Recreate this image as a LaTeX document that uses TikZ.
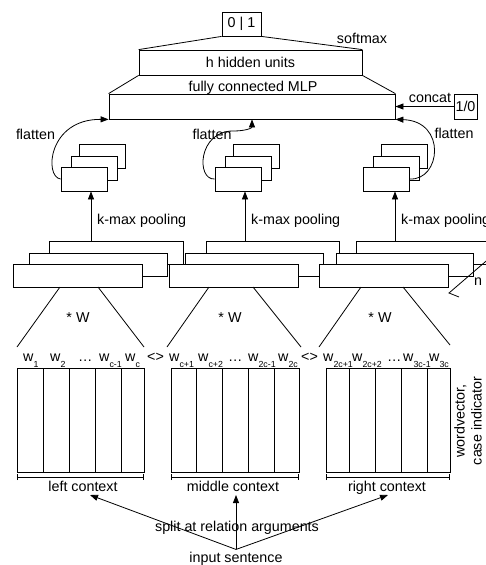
\documentclass[tikz,border=0pt]{standalone}
\usepackage{fontspec}
\setmainfont{Liberation Sans}
\usetikzlibrary{arrows.meta,calc}
\newcommand{\wsub}[1]{w\raisebox{-6pt}{\fontsize{8.8}{9}\selectfont #1}}
\newcommand{\boxnode}[6]{\node[box, minimum width={#4-#2}, minimum height={#5-#3}] (#1) at ({(#2+#4)/2},{(#3+#5)/2}) {#6};}
\begin{document}
\begin{tikzpicture}[x=1pt,y=-1pt,
  every node/.style={font=\fontsize{14.3}{17}\selectfont, inner sep=0pt},
  box/.style={draw, fill=white, line width=0.8pt, inner sep=0pt},
  ln/.style={line width=0.8pt},
  arr/.style={line width=0.8pt, -{Triangle[length=8pt,width=6pt]}},
  brace/.style={line width=0.8pt, {Bar[width=6pt]}-{Bar[width=6pt]}},
]
\useasboundingbox (0,0) rectangle (485,565);

% ---- top: output, hidden layer, MLP
\boxnode{out}{222}{12}{261}{36}{0 | 1}
\boxnode{hid}{139}{50}{362}{75}{h hidden units}
\boxnode{mlp}{109}{94}{395}{119}{}
\boxnode{cat}{454}{94}{477}{119}{1/0}
\draw[ln] (out.south west) -- (hid.north west);
\draw[ln] (out.south east) -- (hid.north east);
\draw[ln] (hid.south west) -- (mlp.north west);
\draw[ln] (hid.south east) -- (mlp.north east);
\node[anchor=base] (sm) at (362,43) {softmax};
\node[anchor=base] (fc) at (253,91) {fully connected MLP};
\draw[arr] (cat.west) -- (mlp.east);
\node[anchor=base] (cc) at (430,102) {concat};

% ---- conv feature maps (back, middle, front)
\boxnode{lcb}{49}{241}{183}{264}{}
\boxnode{mcb}{206}{241}{339}{264}{}
\boxnode{rcb}{356}{241}{490}{264}{}
\boxnode{lcm}{29}{253}{167}{276}{}
\boxnode{mcm}{185}{253}{323}{276}{}
\boxnode{rcm}{336}{253}{473}{276}{}
\boxnode{lcf}{13}{264}{142}{287}{}
\boxnode{mcf}{169}{264}{298}{287}{}
\boxnode{rcf}{319}{264}{448}{287}{}

% ---- pooled stacks
\boxnode{lsb}{79}{144}{125}{168}{}
\boxnode{lsm}{71}{156}{117}{180}{}
\boxnode{lsf}{61}{167}{107}{191}{}
\boxnode{msb}{233}{144}{279}{168}{}
\boxnode{msm}{225}{156}{271}{180}{}
\boxnode{msf}{215}{167}{261}{191}{}
\boxnode{rsb}{381}{144}{427}{168}{}
\boxnode{rsm}{373}{156}{419}{180}{}
\boxnode{rsf}{363}{167}{409}{191}{}

% ---- flatten arrows
\draw[arr] (lsf.west) .. controls (44,177) and (48,119) .. (mlp.south west);
\node[anchor=base] (fl1) at (35.5,139) {flatten};
\draw[arr] (msf.west) .. controls (196,180) and (198,131) .. (233,131) .. controls (246,131) and (252,128) .. (mlp.south);
\node[anchor=base] (fl2) at (212,139) {flatten};
\draw[arr] (rsf.east) .. controls (441,181) and (447,121) .. (mlp.south east);
\node[anchor=base] (fl3) at (454,138) {flatten};

% ---- k-max pooling
\coordinate (lk) at (91,0);
\coordinate (mk) at (245,0);
\coordinate (rk) at (395,0);
\draw[arr] (lk |- lcb.north) -- (lk |- lsf.south);
\draw[arr] (mk |- mcb.north) -- (mk |- msf.south);
\draw[arr] (rk |- rcb.north) -- (rk |- rsf.south);
\node[anchor=base west] (kp1) at (97,224) {k-max pooling};
\node[anchor=base west] (kp2) at (251,224) {k-max pooling};
\node[anchor=base west] (kp3) at (401,224) {k-max pooling};

% ---- n
\coordinate (nA) at (492,256);
\coordinate (nB) at (449,293);
\draw[ln] (nA) -- (nB) -- ++(10,4);
\node[anchor=base] (nl) at (478,285) {n};

% ---- convolution fans
\coordinate (la1) at (60,287);  \coordinate (la2) at (17,347);
\coordinate (lb1) at (98,287);  \coordinate (lb2) at (144,347);
\coordinate (ma1) at (209,287); \coordinate (ma2) at (167,347);
\coordinate (mb1) at (253,287); \coordinate (mb2) at (301,347);
\coordinate (ra1) at (361,287); \coordinate (ra2) at (319,347);
\coordinate (rb1) at (403,287); \coordinate (rb2) at (450,345);
\draw[ln] (la1) -- (la2); \draw[ln] (lb1) -- (lb2);
\draw[ln] (ma1) -- (ma2); \draw[ln] (mb1) -- (mb2);
\draw[ln] (ra1) -- (ra2); \draw[ln] (rb1) -- (rb2);
\node[anchor=base] (sw1) at (78,322) {* W};
\node[anchor=base] (sw2) at (230,322) {* W};
\node[anchor=base] (sw3) at (380,322) {* W};

% ---- word vectors
\foreach \a/\b [count=\i] in {17/43,43/69,69/95,95/121,121/144}
  {\boxnode{lw\i}{\a}{368}{\b}{472}{}}
\foreach \a/\b [count=\i] in {171/196,196/222,222/248,248/274,274/299}
  {\boxnode{mw\i}{\a}{368}{\b}{472}{}}
\foreach \a/\b [count=\i] in {326/349,349/375,375/401,401/427,427/450}
  {\boxnode{rw\i}{\a}{368}{\b}{472}{}}

\node[anchor=base west] (t1) at (23,361) {\wsub{1}};
\node[anchor=base west] (t2) at (50,361) {\wsub{2}};
\node[anchor=base west] (t3) at (78,361) {…};
\node[anchor=base west] (t4) at (99,361) {\wsub{c-1}};
\node[anchor=base west] (t5) at (125,361) {\wsub{c}};
\node[anchor=base west] (s1) at (147,361) {<>};
\node[anchor=base west] (t6) at (169,361) {\wsub{c+1}};
\node[anchor=base west] (t7) at (198,361) {\wsub{c+2}};
\node[anchor=base west] (t8) at (228,361) {…};
\node[anchor=base west] (t9) at (248,361) {\wsub{2c-1}};
\node[anchor=base west] (t10) at (278,361) {\wsub{2c}};
\node[anchor=base west] (s2) at (301,361) {<>};
\node[anchor=base west] (t11) at (323,361) {\wsub{2c+1}};
\node[anchor=base west] (t12) at (352,361) {\wsub{2c+2}};
\node[anchor=base west] (t13) at (387,361) {…};
\node[anchor=base west] (t14) at (403,361) {\wsub{3c-1}};
\node[anchor=base west] (t15) at (429,361) {\wsub{3c}};

\node[rotate=90, align=center, font=\fontsize{14.3}{17}\selectfont] (wv) at (468,421) {wordvector,\\case indicator};

% ---- context braces
\coordinate (lbr1) at (17,477);  \coordinate (lbr2) at (144,477);
\coordinate (mbr1) at (171,477); \coordinate (mbr2) at (299,477);
\coordinate (rbr1) at (326,477); \coordinate (rbr2) at (450,477);
\draw[brace] (lbr1) -- (lbr2);
\draw[brace] (mbr1) -- (mbr2);
\draw[brace] (rbr1) -- (rbr2);
\node[anchor=base] (lcl) at (83,491) {left context};
\node[anchor=base] (mcl) at (233,491) {middle context};
\node[anchor=base] (rcl) at (387,491) {right context};

% ---- input
\node[anchor=base] (isn) at (236,562) {input sentence};
\coordinate (src) at ($(isn.north)+(0,-2)$);
\coordinate (lt) at (90,495);
\coordinate (rt) at (388,495);
\draw[arr] (src) -- (lt);
\draw[arr] (src) -- (src |- lt);
\draw[arr] (src) -- (rt);
\node[anchor=base] (spl) at (237,531) {split at relation arguments};
\end{tikzpicture}
\end{document}
